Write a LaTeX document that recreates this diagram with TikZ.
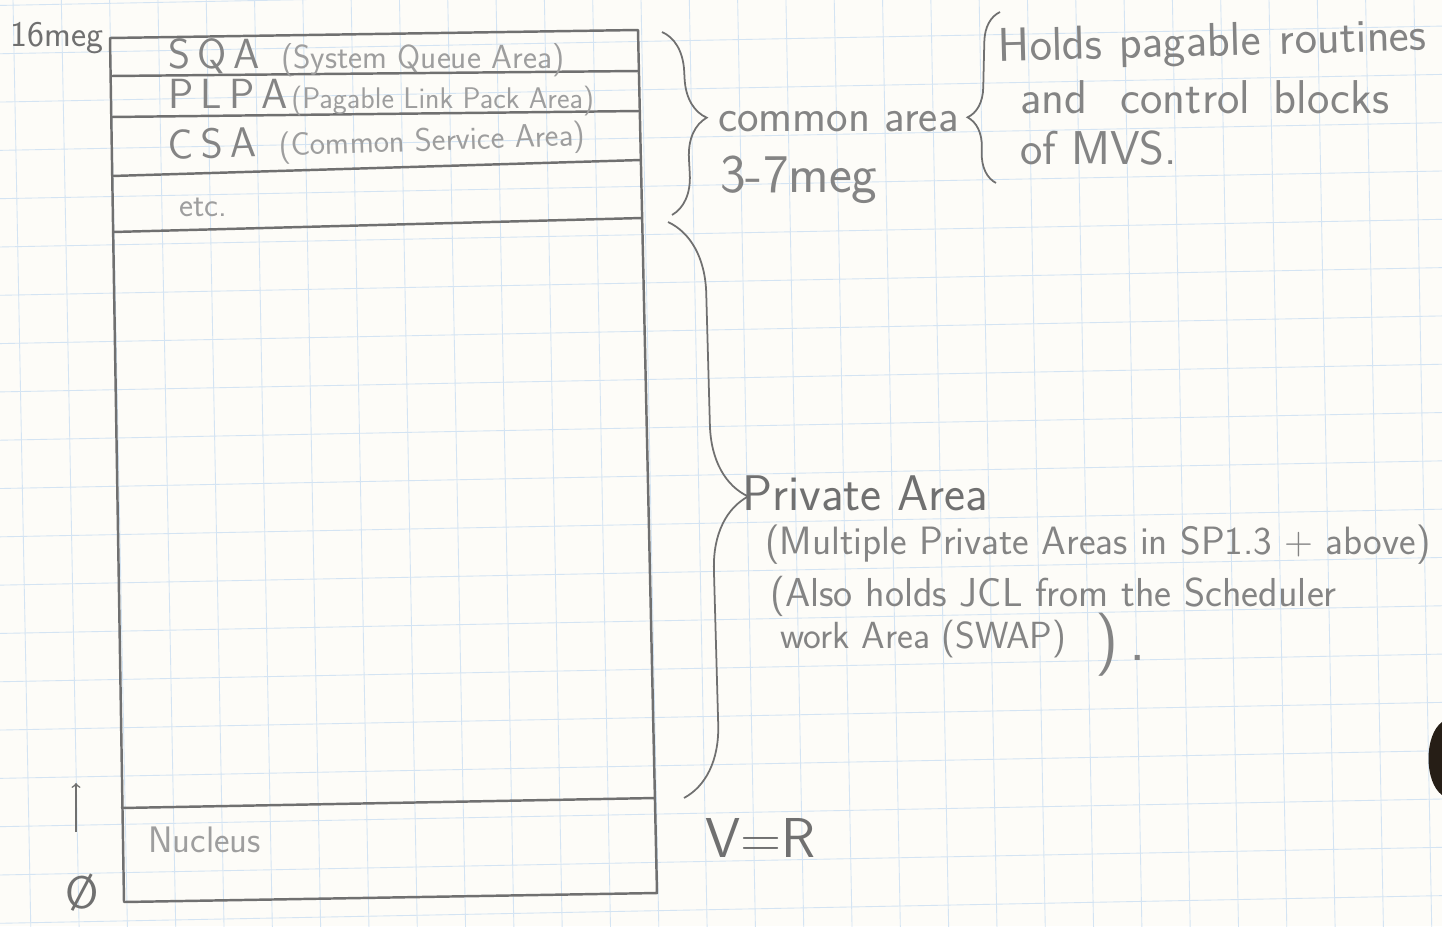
\documentclass[tikz,border=0pt]{standalone}
\usepackage{tikz}
\usetikzlibrary{decorations.pathreplacing,positioning}

\definecolor{carta}{RGB}{253,252,248}
\definecolor{griglia}{RGB}{212,228,243}
\definecolor{matita}{RGB}{112,112,112}
\definecolor{matitamedia}{RGB}{132,132,132}
\definecolor{matitachiara}{RGB}{158,158,158}
\definecolor{macchia}{RGB}{38,30,22}

\newcommand{\penfont}[1]{\fontsize{#1}{#1}\selectfont}

\tikzset{
  tratto/.style={matita, line width=1.4pt, line join=round},
  scritta/.style={matitamedia, inner sep=0pt, anchor=west, font=\sffamily},
  graffa/.style 2 args={matita, line width=1pt, decorate,
    decoration={brace, amplitude=#1, aspect=#2}},
}

\begin{document}
\begin{tikzpicture}[x=0.02cm, y=-0.02cm]
    % --- carta a quadretti ---
    \fill[carta] (0,0) rectangle (1442,926);
    \begin{scope}
    \clip (0,0) rectangle (1442,926);
    \begin{scope}[rotate around={1.1:(720,463)}]
    \foreach \i in {-3,...,32}
        \draw[griglia, line width=0.5pt] ({22+48.3*\i},-100) -- ({22+48.3*\i},1030);
    \foreach \j in {-3,...,21}
        \draw[griglia, line width=0.5pt] (-100,{40+48.3*\j}) -- (1550,{40+48.3*\j});
    \end{scope}
    \end{scope}
    \useasboundingbox (0,0) rectangle (1442,926);

    % --- spazio di indirizzamento (16 mega) ---
    \coordinate (tl) at (110,38);
    \coordinate (tr) at (638,30);
    \coordinate (bl) at (124,902);
    \coordinate (br) at (657,893);

    % linee di separazione delle aree
    \coordinate (l1) at (111,76);   \coordinate (r1) at (639,71);
    \coordinate (l2) at (111,117);  \coordinate (r2) at (640,111);
    \coordinate (l3) at (112,176);  \coordinate (r3) at (641,160);
    \coordinate (l4) at (113,232);  \coordinate (r4) at (642,218);
    \coordinate (l5) at (121,808);  \coordinate (r5) at (655,798);

    \draw[tratto] (tl) -- (tr) -- (br) -- (bl) -- cycle;
    \foreach \n in {1,...,5}
        \draw[tratto] (l\n) -- (r\n);

    % nomi delle aree
    \node[scritta, text=matita] (top) at (10,38) {\penfont{20.5}16meg};
    \node[scritta] (sqa) at (168,58)
        {\penfont{24}S\,Q\,A\hspace{12pt}{\color{matitachiara}\penfont{19}(System Queue Area)}};
    \node[scritta] (plpa) at (168,98)
        {\penfont{24}P\,L\,P\,A\hspace{2pt}{\color{matitachiara}\penfont{17}(Pagable Link Pack Area)}};
    \node[scritta, rotate=2] (csa) at (168,149)
        {\penfont{24}C\,S\,A\hspace{13pt}{\color{matitachiara}\penfont{18.5}(Common Service Area)}};
    \node[scritta, text=matitachiara] (etc) at (179,207) {\penfont{19}etc.};
    \node[scritta, text=matitachiara] (nucleus) at (148,840) {\penfont{21}Nucleus};

    % indirizzo zero e verso di crescita
    \node[scritta, text=matita, anchor=center] (zero) at (82,893) {\penfont{26}Ø};
    \coordinate (freccia-da) at (76,832);
    \coordinate (freccia-a) at (76,783);
    \draw[tratto, line width=0.9pt, ->] (freccia-da) -- (freccia-a);

    % --- area comune ---
    \coordinate (ca) at (662,32);
    \coordinate (cb) at (672,215);
    \draw[graffa={0.8cm}{0.48}] (ca) -- (cb);
    \node[scritta] (comune) at (718,122) {\penfont{26}common area};
    \node[scritta] (mega) at (720,180) {\penfont{31}3-7meg};

    \coordinate (ha) at (996,183);
    \coordinate (hb) at (1000,12);
    \draw[graffa={0.6cm}{0.38}] (ha) -- (hb);
    \node[scritta, rotate=1.5] (holds) at (998,50)
        {\penfont{27}Holds\hspace{0.35em}pagable\hspace{0.4em}routines};
    \node[scritta] (blocks) at (1020,97)
        {\penfont{27}and\hspace{0.7em}control\hspace{0.5em}blocks};
    \node[scritta] (mvs) at (1020,148) {\penfont{27}of MVS.};

    % --- area privata ---
    \coordinate (pa) at (668,222);
    \coordinate (pb) at (684,798);
    \draw[graffa={1.45cm}{0.48}] (pa) -- (pb);
    \node[scritta, text=matita] (privata) at (742,493) {\penfont{28.5}Private Area};
    \node[scritta] (multiple) at (765,545) {\penfont{22.5}(Multiple Private Areas in SP1.3 + above)};
    \node[scritta] (jcl) at (770,596) {\penfont{23}(Also holds JCL from the Scheduler};
    \node[scritta] (swap) at (780,639) {\penfont{21.5}work Area (SWAP)};
    \node[scritta] (chiusa) at (1095,645) {\penfont{36})\,.};

    \node[scritta, text=matita] (vr) at (705,838) {\penfont{32}V=R};

    % macchia sul bordo destro
    \fill[macchia] (1442,722) .. controls (1424,735) and (1424,782) .. (1442,795) -- cycle;
\end{tikzpicture}
\end{document}
